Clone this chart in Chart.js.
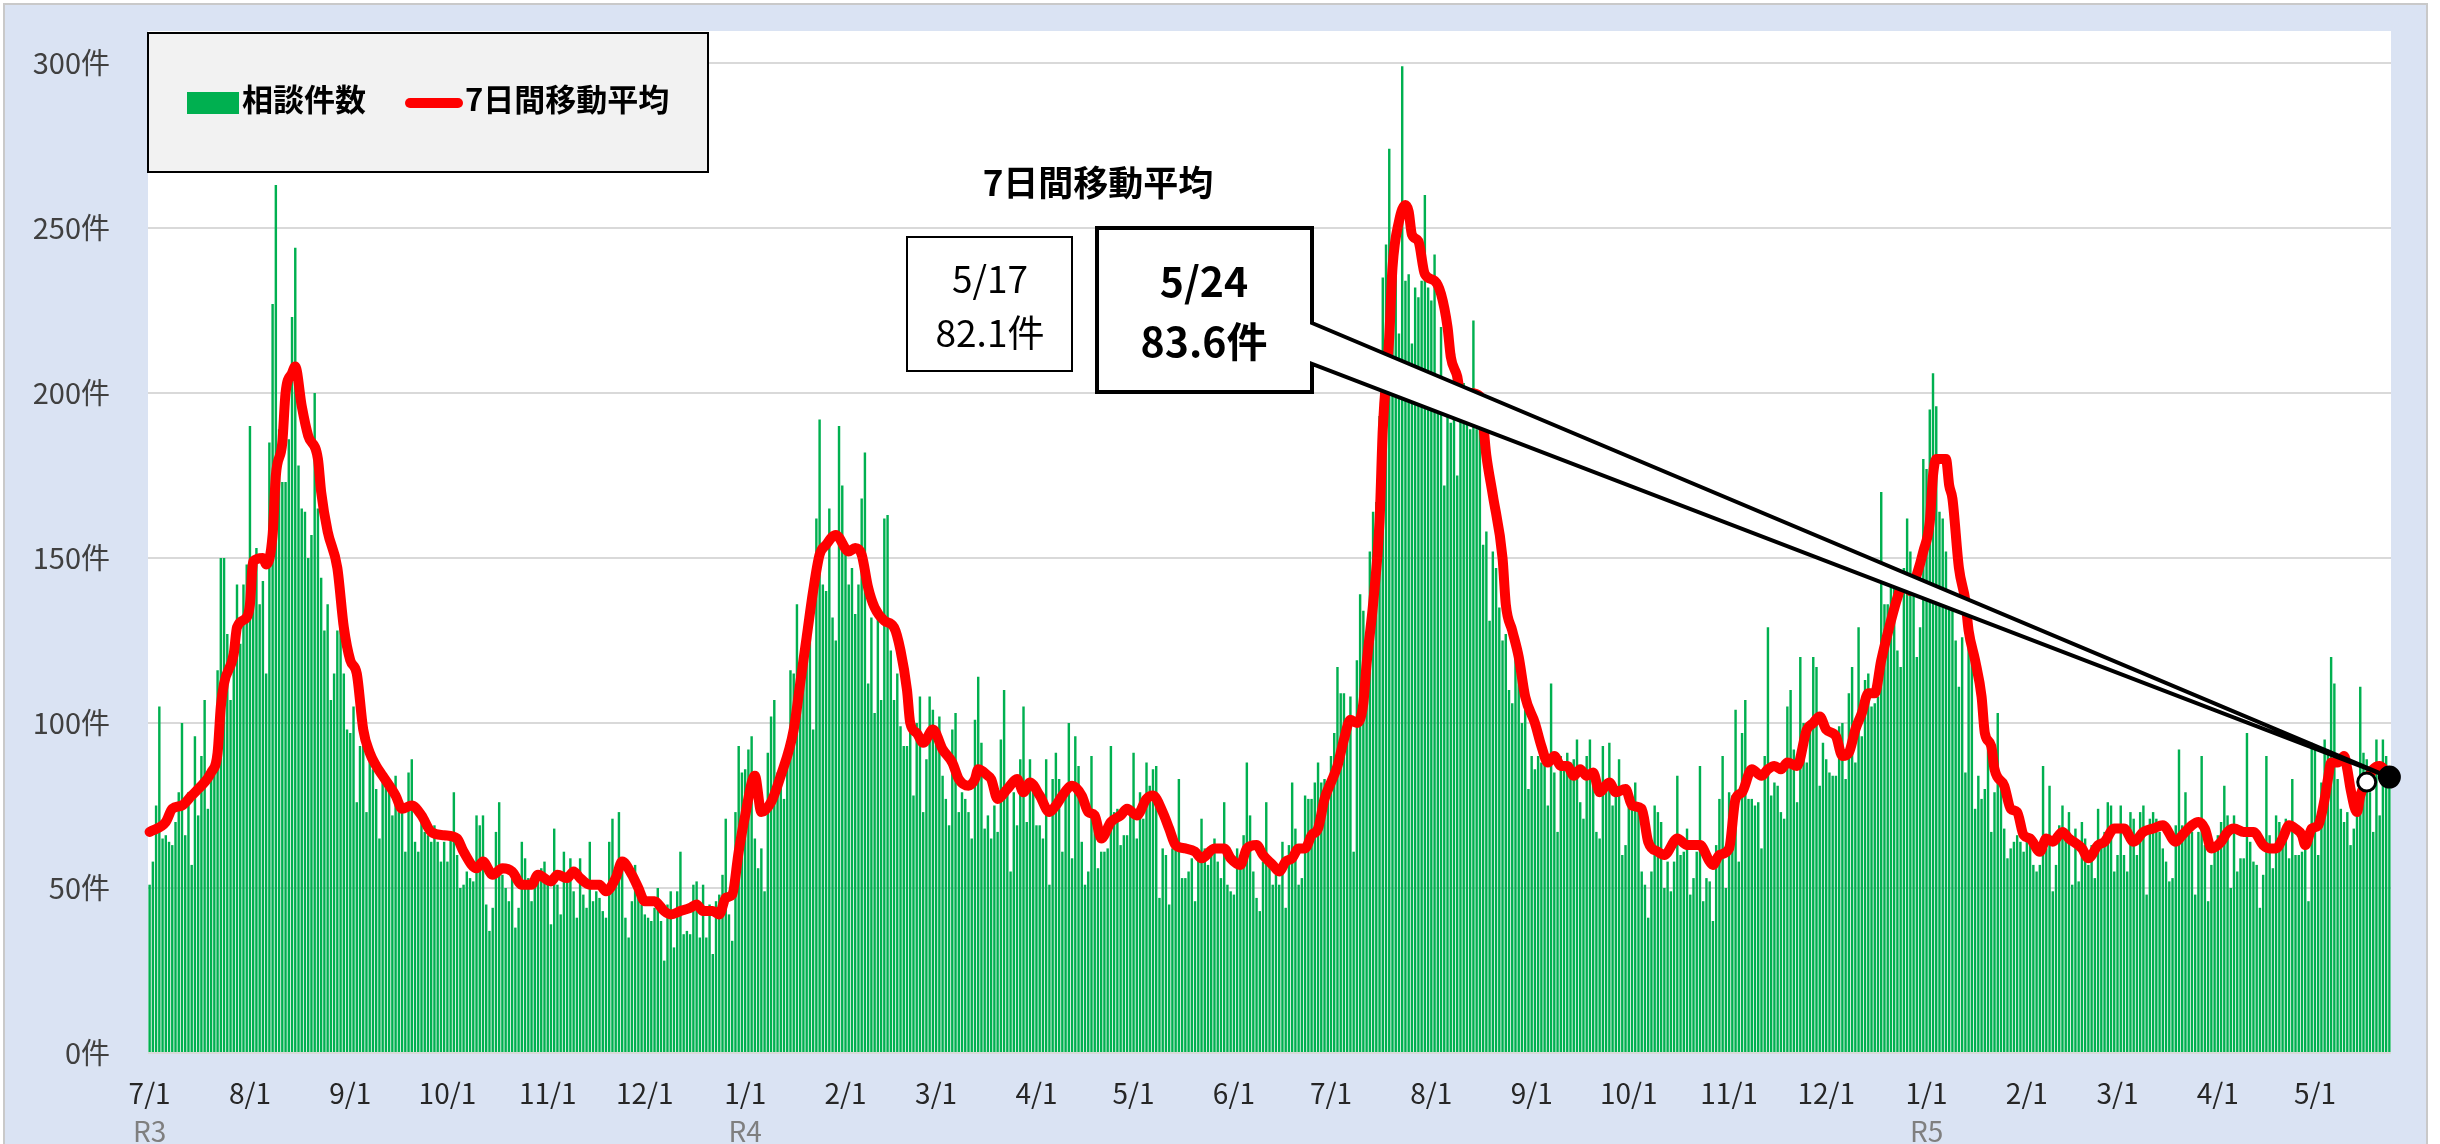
<!DOCTYPE html>
<html lang="ja">
<head>
<meta charset="utf-8">
<title>相談件数と7日間移動平均</title>
<script src="https://cdn.jsdelivr.net/npm/chart.js@4.4.1/dist/chart.umd.min.js"></script>
<style>
  html, body { margin: 0; padding: 0; background: #ffffff; }
  #wrap { width: 2440px; height: 1144px; }
</style>
</head>
<body>
<div id="wrap"><canvas id="chart" width="2440" height="1144"></canvas></div>
<script>
// 日別の相談件数（2021/7/1 から 1日ずつ、2023/5/24 まで）
const dailyCounts = [
  51,58,75,105,65,66,64,63,70,79,       // 2021/7/1
  100,66,79,57,96,72,90,107,74,84,
  91,116,150,150,127,107,123,142,124,142,
  148,190,136,153,136,143,115,185,227,263,
  189,173,173,186,223,244,178,165,164,150,
  157,200,165,144,128,136,107,115,128,129,
  115,98,97,105,76,93,93,73,91,86,
  80,65,85,82,79,72,84,73,73,61,
  85,89,64,61,72,67,66,64,69,64,
  58,64,58,66,79,60,50,51,55,53,
  52,72,69,72,45,37,44,67,76,54,        // 10/9
  50,46,53,38,44,64,59,53,46,51,
  54,56,58,52,39,68,51,42,61,54,
  59,49,41,59,48,44,64,46,49,47,
  43,41,64,71,54,73,56,41,35,46,
  57,47,45,42,41,40,44,50,40,28,
  45,49,32,49,61,36,37,36,51,52,
  35,51,35,45,30,46,48,54,71,42,
  34,73,93,85,86,92,96,65,56,62,
  49,91,102,107,85,86,77,87,116,115,
  136,116,125,125,128,98,162,192,142,140, // 2022/1/17
  165,132,125,190,172,152,142,147,133,142,
  168,182,112,132,103,132,107,162,163,122,
  107,115,99,93,93,98,78,100,108,73,
  89,108,104,98,102,84,77,69,98,103,
  73,79,77,73,65,101,114,94,68,72,
  65,75,67,95,110,79,55,79,69,89,
  105,70,89,82,69,69,65,89,51,83,
  91,83,61,79,100,59,96,87,64,51,
  55,90,70,56,61,61,62,93,73,74,
  63,66,66,72,91,65,79,71,88,81,        // 4/27
  86,87,47,62,60,45,62,62,83,53,
  53,55,59,46,60,71,62,57,63,65,
  58,53,76,51,49,48,62,60,66,88,
  72,55,47,43,58,76,59,51,54,51,
  64,44,63,82,68,51,53,78,77,77,
  82,88,82,83,77,90,97,117,109,109,
  97,108,61,119,139,134,113,152,164,167,
  193,235,245,274,238,250,218,299,234,236,
  215,232,229,234,260,232,228,242,194,220,
  172,193,191,212,175,193,203,191,189,222, // 8/5
  189,189,154,158,131,152,147,135,125,127,
  110,106,121,117,100,104,80,90,86,90,
  88,90,75,112,85,67,90,86,91,88,
  89,95,76,71,90,95,85,67,65,93,
  83,94,75,80,89,60,63,76,77,82,
  75,55,51,41,55,75,73,70,50,58,
  49,58,84,60,61,68,48,53,61,87,
  46,53,52,40,63,77,90,50,79,78,
  104,58,97,107,77,77,75,76,62,90,
  129,78,82,81,73,71,105,110,92,76,     // 11/13
  120,100,88,100,120,117,81,94,89,85,
  84,84,99,100,83,109,117,88,129,96,
  113,115,105,106,108,170,136,136,147,142,
  122,117,147,162,152,139,120,129,180,177,
  195,206,196,164,162,152,139,137,125,111,
  126,85,136,127,74,84,77,80,95,67,
  79,103,81,68,59,62,64,66,64,61,
  65,64,57,55,57,87,62,81,49,57,
  69,75,67,73,51,68,52,70,65,57,
  63,53,74,63,67,76,75,55,60,75,        // 2023/2/21
  60,55,73,71,60,73,75,48,71,73,
  71,67,62,58,52,53,69,92,69,79,
  68,67,48,67,90,63,46,57,61,66,
  70,81,72,50,72,55,59,59,97,64,
  58,57,44,54,90,66,56,72,70,64,
  71,59,83,60,60,61,64,46,94,92,
  60,82,95,92,120,112,83,74,70,73,
  63,68,78,111,91,89,79,67,95,72,
  95,90,83
];

// 7日間移動平均（グラフから読み取った日と値）
const maDates = [
  '2021-07-01','2021-07-06','2021-07-08','2021-07-11','2021-07-14','2021-07-16','2021-07-20','2021-07-22','2021-07-23','2021-07-24','2021-07-27','2021-07-28','2021-07-31',
  '2021-08-01','2021-08-02','2021-08-05','2021-08-06','2021-08-08','2021-08-09','2021-08-11','2021-08-12','2021-08-14','2021-08-15','2021-08-17','2021-08-19','2021-08-22','2021-08-23','2021-08-25','2021-08-28','2021-08-30',
  '2021-09-01','2021-09-03','2021-09-05','2021-09-07','2021-09-09','2021-09-11','2021-09-15','2021-09-17','2021-09-20','2021-09-23','2021-09-26','2021-09-30',
  '2021-10-04','2021-10-06','2021-10-10','2021-10-12','2021-10-15','2021-10-18','2021-10-21','2021-10-24','2021-10-27','2021-10-29',
  '2021-11-02','2021-11-04','2021-11-07','2021-11-09','2021-11-11','2021-11-14','2021-11-17','2021-11-19','2021-11-22','2021-11-24','2021-11-27','2021-11-29',
  '2021-12-01','2021-12-04','2021-12-07','2021-12-09','2021-12-12','2021-12-15','2021-12-17','2021-12-19','2021-12-22','2021-12-24','2021-12-26','2021-12-28','2021-12-30',
  '2022-01-01','2022-01-04','2022-01-06','2022-01-09','2022-01-12','2022-01-16','2022-01-18','2022-01-20','2022-01-22','2022-01-24','2022-01-26','2022-01-29',
  '2022-02-02','2022-02-04','2022-02-06','2022-02-08','2022-02-10','2022-02-13','2022-02-16','2022-02-18','2022-02-20','2022-02-21','2022-02-23','2022-02-25','2022-02-28',
  '2022-03-03','2022-03-06','2022-03-08','2022-03-11','2022-03-13','2022-03-14','2022-03-17','2022-03-18','2022-03-20','2022-03-23','2022-03-26','2022-03-28','2022-03-30',
  '2022-04-02','2022-04-05','2022-04-07','2022-04-09','2022-04-12','2022-04-15','2022-04-17','2022-04-19','2022-04-21','2022-04-24','2022-04-27','2022-04-29',
  '2022-05-02','2022-05-05','2022-05-07','2022-05-10','2022-05-12','2022-05-14','2022-05-17','2022-05-20','2022-05-22','2022-05-26','2022-05-29','2022-05-31',
  '2022-06-03','2022-06-05','2022-06-08','2022-06-10','2022-06-13','2022-06-15','2022-06-17','2022-06-19','2022-06-21','2022-06-23','2022-06-25','2022-06-27','2022-06-29',
  '2022-07-01','2022-07-03','2022-07-05','2022-07-07','2022-07-09','2022-07-11','2022-07-12','2022-07-14','2022-07-16','2022-07-17','2022-07-19','2022-07-20','2022-07-22','2022-07-24','2022-07-25','2022-07-26','2022-07-28','2022-07-30',
  '2022-08-02','2022-08-04','2022-08-06','2022-08-07','2022-08-09','2022-08-10','2022-08-13','2022-08-16','2022-08-18','2022-08-20','2022-08-23','2022-08-24','2022-08-26','2022-08-28','2022-08-30',
  '2022-09-02','2022-09-04','2022-09-06','2022-09-08','2022-09-10','2022-09-12','2022-09-14','2022-09-16','2022-09-18','2022-09-20','2022-09-22','2022-09-25','2022-09-27','2022-09-30',
  '2022-10-02','2022-10-05','2022-10-07','2022-10-10','2022-10-12','2022-10-16','2022-10-19','2022-10-23','2022-10-26','2022-10-27','2022-10-29',
  '2022-11-01','2022-11-03','2022-11-05','2022-11-08','2022-11-11','2022-11-13','2022-11-15','2022-11-17','2022-11-19','2022-11-22','2022-11-25','2022-11-27','2022-11-29',
  '2022-12-01','2022-12-04','2022-12-06','2022-12-08','2022-12-10','2022-12-12','2022-12-14','2022-12-16','2022-12-18','2022-12-21','2022-12-23','2022-12-25','2022-12-27','2022-12-29','2022-12-31',
  '2023-01-02','2023-01-03','2023-01-04','2023-01-07','2023-01-08','2023-01-09','2023-01-11','2023-01-13','2023-01-14','2023-01-16','2023-01-18','2023-01-19','2023-01-21','2023-01-22','2023-01-25','2023-01-27','2023-01-29','2023-01-31',
  '2023-02-02','2023-02-05','2023-02-07','2023-02-09','2023-02-12','2023-02-14','2023-02-18','2023-02-20','2023-02-23','2023-02-25','2023-02-28',
  '2023-03-03','2023-03-06','2023-03-09','2023-03-12','2023-03-15','2023-03-19','2023-03-21','2023-03-24','2023-03-26','2023-03-28','2023-03-30',
  '2023-04-02','2023-04-04','2023-04-06','2023-04-09','2023-04-12','2023-04-15','2023-04-17','2023-04-19','2023-04-21','2023-04-23','2023-04-25','2023-04-27','2023-04-28','2023-04-30',
  '2023-05-02','2023-05-04','2023-05-05','2023-05-06','2023-05-08','2023-05-10','2023-05-11','2023-05-12','2023-05-14','2023-05-15','2023-05-17','2023-05-19','2023-05-21','2023-05-24'
];
const maValues = [
  67,70,74,75,78,80,85,91,105,112,121,129,132,
  136,149,150,148,157,175,185,200,206,208,196,187,180,170,158,147,129,
  119,115,98,91,87,84,78,74,75,72,67,66,
  65,61,56,58,54,56,55,51,51,54,
  52,54,53,55,53,51,51,49,53,58,54,50,
  46,46,43,42,43,44,45,43,43,42,47,48,61,
  72,84,73,76,84,98,112,126,140,151,154,157,
  152,153,151,141,135,131,129,122,110,100,97,94,98,
  92,88,83,81,83,86,84,83,77,80,83,79,82,
  78,73,75,78,81,78,73,72,65,70,72,74,
  72,77,78,73,68,63,62,61,59,62,62,59,
  57,62,63,60,57,55,58,59,62,62,66,68,77,
  82,87,95,101,100,106,118,136,161,189,217,238,252,257,255,248,246,236,
  234,230,220,211,205,200,200,199,181,169,150,136,128,120,108,
  100,93,88,90,87,87,84,86,84,85,79,82,79,80,
  75,74,64,61,60,65,63,63,58,57,60,
  62,77,79,86,84,86,87,86,88,87,98,100,102,
  98,96,90,91,98,103,109,109,119,131,138,143,140,145,152,
  161,175,180,180,172,168,147,137,128,119,108,97,93,86,81,74,73,66,
  65,61,65,64,67,65,62,59,63,64,68,
  68,64,67,68,69,64,66,69,70,68,62,
  64,67,68,67,67,63,62,62,65,69,68,66,63,68,
  69,77,83,88,88,90,86,80,73,78,82.1,86,87,83.6
];

// 吹き出しで示す日と値
const markerDates = ['2023-05-17', '2023-05-24'];
const markerValues = [82.1, 83.6];

// 年度の表示
const eraDates = ['2021-07-01', '2022-01-01', '2023-01-01'];
const eraNames = ['R3', 'R4', 'R5'];

// 縦軸
const yMax = 300;
const yStep = 50;

// 日付ラベル（2021/7/1 から件数の数だけ）
const labels = dailyCounts.map((_, i) =>
  new Date(Date.UTC(2021, 6, 1 + i)).toISOString().slice(0, 10));

const FONT = '"Noto Sans CJK JP", "Noto Sans", sans-serif';
Chart.defaults.font.family = FONT;

const md = s => {
  const [, m, d] = s.split('-').map(Number);
  return m + '/' + d;
};

const overlay = {
  id: 'overlay',
  beforeDraw(chart) {
    const { ctx, chartArea: a } = chart;
    ctx.save();
    ctx.fillStyle = '#ffffff';
    ctx.fillRect(0, 0, chart.width, chart.height);
    ctx.fillStyle = '#dae3f3';
    ctx.fillRect(4, 4, 2423, 1150);
    ctx.strokeStyle = '#c9c9c9';
    ctx.lineWidth = 2;
    ctx.strokeRect(4, 4, 2423, 1150);
    // プロット領域（白）
    ctx.fillStyle = '#ffffff';
    ctx.fillRect(a.left, a.top - 32, a.right - a.left, a.bottom - a.top + 32);
    ctx.restore();
  },
  afterDatasetDraw(chart, args) {
    if (args.index !== 1) return;
    const { ctx } = chart;
    const xs = chart.scales.x, ys = chart.scales.y;
    ctx.save();

    // 凡例
    ctx.fillStyle = '#f2f2f2';
    ctx.fillRect(148, 33, 560, 139);
    ctx.strokeStyle = '#000000';
    ctx.lineWidth = 2;
    ctx.strokeRect(148, 33, 560, 139);
    ctx.fillStyle = '#00b050';
    ctx.fillRect(187, 92, 52, 22);
    ctx.strokeStyle = '#ff0000';
    ctx.lineWidth = 10;
    ctx.lineCap = 'round';
    ctx.beginPath();
    ctx.moveTo(410, 103);
    ctx.lineTo(458, 103);
    ctx.stroke();
    ctx.lineCap = 'butt';
    ctx.fillStyle = '#000000';
    ctx.font = 'bold 31px ' + FONT;
    ctx.textAlign = 'left';
    ctx.textBaseline = 'middle';
    ctx.fillText(chart.data.datasets[0].label, 242, 99);
    ctx.fillText(chart.data.datasets[1].label, 465, 99);

    // 見出し
    ctx.font = 'bold 35px ' + FONT;
    ctx.textAlign = 'center';
    ctx.fillText(chart.data.datasets[1].label, 1098, 183);

    // 5/17 の枠
    ctx.strokeStyle = '#000000';
    ctx.fillStyle = '#ffffff';
    ctx.fillRect(907, 237, 165, 134);
    ctx.lineWidth = 2;
    ctx.strokeRect(907, 237, 165, 134);
    ctx.fillStyle = '#000000';
    ctx.font = '37px ' + FONT;
    ctx.fillText(md(markerDates[0]), 990, 279);
    ctx.fillText(markerValues[0].toFixed(1) + '件', 990, 333);

    // 5/24 の吹き出し
    const tipX = xs.getPixelForValue(labels.indexOf(markerDates[1]));
    const tipY = ys.getPixelForValue(markerValues[1]);
    ctx.beginPath();
    ctx.moveTo(1097, 228);
    ctx.lineTo(1312, 228);
    ctx.lineTo(1312, 323);
    ctx.lineTo(tipX, tipY);
    ctx.lineTo(1312, 364);
    ctx.lineTo(1312, 392);
    ctx.lineTo(1097, 392);
    ctx.closePath();
    ctx.fillStyle = '#ffffff';
    ctx.fill();
    ctx.lineWidth = 4;
    ctx.strokeStyle = '#000000';
    ctx.stroke();
    ctx.fillStyle = '#000000';
    ctx.font = 'bold 41px ' + FONT;
    ctx.fillText(md(markerDates[1]), 1204, 281);
    ctx.fillText(markerValues[1].toFixed(1) + '件', 1204, 341);

    ctx.restore();
  },
  afterDraw(chart) {
    const { ctx } = chart;
    const xs = chart.scales.x;
    ctx.save();
    ctx.font = '28px ' + FONT;
    ctx.fillStyle = '#7f7f7f';
    ctx.textAlign = 'center';
    ctx.textBaseline = 'middle';
    eraDates.forEach((d, i) => {
      ctx.fillText(eraNames[i], xs.getPixelForValue(labels.indexOf(d)), 1131);
    });
    ctx.restore();
  }
};

new Chart(document.getElementById('chart'), {
  type: 'bar',
  data: {
    labels,
    datasets: [
      {
        type: 'bar',
        label: '相談件数',
        data: dailyCounts,
        backgroundColor: '#00b050',
        barPercentage: 0.75,
        categoryPercentage: 1,
        order: 3
      },
      {
        type: 'line',
        label: '7日間移動平均',
        data: maDates.map((d, i) => ({ x: d, y: maValues[i] })),
        borderColor: '#ff0000',
        borderWidth: 10,
        borderCapStyle: 'round',
        borderJoinStyle: 'round',
        cubicInterpolationMode: 'monotone',
        pointRadius: 0,
        order: 2
      },
      {
        type: 'line',
        label: '注目日',
        data: markerDates.map((d, i) => ({ x: d, y: markerValues[i] })),
        showLine: false,
        pointRadius: [9, 10],
        pointBorderWidth: 3,
        pointBackgroundColor: ['#ffffff', '#000000'],
        pointBorderColor: '#000000',
        clip: false,
        order: 1
      }
    ]
  },
  options: {
    responsive: false,
    animation: false,
    events: [],
    layout: { padding: { top: 63, right: 49, left: 0, bottom: 0 } },
    plugins: { legend: { display: false }, tooltip: { enabled: false } },
    scales: {
      x: {
        grid: { display: false, drawTicks: false },
        border: { display: false },
        afterFit: s => { s.height = 91; },
        ticks: {
          autoSkip: false,
          maxRotation: 0,
          minRotation: 0,
          padding: 24,
          color: '#262626',
          font: { size: 28 },
          callback(value) {
            const s = this.getLabelForValue(value);
            return s.endsWith('-01') ? md(s) : '';
          }
        }
      },
      y: {
        min: 0,
        max: yMax,
        grid: { color: '#d9d9d9', lineWidth: 2, drawTicks: false },
        border: { display: false },
        afterFit: s => { s.width = 148; },
        ticks: {
          stepSize: yStep,
          padding: 38,
          color: '#404040',
          font: { size: 29 },
          callback: v => v + '件'
        }
      }
    }
  },
  plugins: [overlay]
});
</script>
</body>
</html>
